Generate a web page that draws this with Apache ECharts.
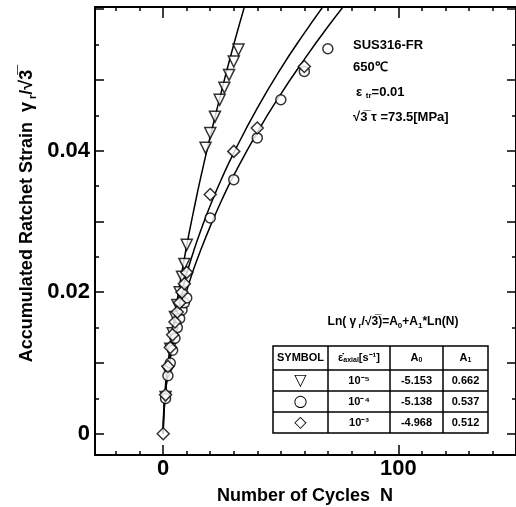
<!DOCTYPE html>
<html>
<head>
<meta charset="utf-8">
<script src="https://cdn.jsdelivr.net/npm/echarts@6/dist/echarts.min.js"></script>
<style>
html, body { margin: 0; padding: 0; background: #fff; }
#main { width: 516px; height: 507px; }
</style>
</head>
<body>
<div id="main"></div>
<script>
var triN = [1, 2, 3, 4, 5, 6, 7, 8, 9, 10, 18, 20, 22, 24, 26, 28, 30, 32];
var triY = [0.0052, 0.0088, 0.0120, 0.0142, 0.0165, 0.0182, 0.0200, 0.0222, 0.0240, 0.0267, 0.0404, 0.0425, 0.0448, 0.0472, 0.0489, 0.0507, 0.0526, 0.0543];
var cirN = [1, 2, 3, 4, 5, 6, 7, 8, 9, 10, 20, 30, 40, 50, 60, 70];
var cirY = [0.0050, 0.0082, 0.0100, 0.0118, 0.0135, 0.0150, 0.0163, 0.0175, 0.0185, 0.0192, 0.0305, 0.0359, 0.0418, 0.0472, 0.0512, 0.0544];
var diaN = [0, 1, 2, 3, 4, 5, 6, 7, 8, 9, 10, 20, 30, 40, 60];
var diaY = [0, 0.0055, 0.0095, 0.0122, 0.0140, 0.0158, 0.0172, 0.0185, 0.0200, 0.0212, 0.0228, 0.0338, 0.0399, 0.0432, 0.0519];

// fitted curves
var fitTriN = [0, 0.1, 0.3, 0.6, 1, 1.5, 2, 3, 4, 5, 7, 10, 13, 16, 20, 25, 30, 36];
var fitTriY = [0, 0.00126, 0.00261, 0.00413, 0.00579, 0.00757, 0.00916, 0.01197, 0.01448, 0.0168, 0.0210, 0.0266, 0.0316, 0.0363, 0.0420, 0.0487, 0.0550, 0.0620];
var fitCirN = [0, 0.1, 0.3, 0.6, 1, 1.5, 2, 3, 4, 5, 7, 10, 13, 16, 20, 25, 30, 40, 50, 60, 70, 80];
var fitCirY = [0, 0.00171, 0.00308, 0.00446, 0.00587, 0.0073, 0.00852, 0.01059, 0.01237, 0.01394, 0.01669, 0.0202, 0.0233, 0.0260, 0.0293, 0.0331, 0.0365, 0.0426, 0.0480, 0.0529, 0.0575, 0.0618];
var fitDiaN = [0, 0.1, 0.3, 0.6, 1, 1.5, 2, 3, 4, 5, 7, 10, 13, 16, 20, 25, 30, 40, 50, 60, 70];
var fitDiaY = [0, 0.00214, 0.00376, 0.00536, 0.00696, 0.00856, 0.00992, 0.01221, 0.01415, 0.01587, 0.01884, 0.02262, 0.02587, 0.02877, 0.03226, 0.03616, 0.0397, 0.0460, 0.0516, 0.0566, 0.0613];

// axes
var xLabels = [0, 100];
var xMajorTicks = [0, 100];
var xMinorTicks = [-20, -10, 0, 10, 20, 30, 40, 50, 60, 70, 80, 90, 100, 110, 120, 130, 140, 150];
var yLabels = [0, 0.02, 0.04];
var yMajorTicks = [0, 0.01, 0.02, 0.03, 0.04, 0.05, 0.06];
var yMinorTicks = [0.005, 0.015, 0.025, 0.035, 0.045, 0.055];

// table
var tableSymbols = ['▽', '○', '◇'];
var tableRates = ['10⁻⁵', '10⁻⁴', '10⁻³'];
var tableA0 = ['-5.153', '-5.138', '-4.968'];
var tableA1 = ['0.662', '0.537', '0.512'];

var FONT = '"Liberation Sans", Arial, sans-serif';

function pairs(xs, ys) {
    var out = [];
    for (var i = 0; i < xs.length; i++) out.push([xs[i], ys[i]]);
    return out;
}

function xAx(pos, ticks, len, labels, line) {
    return {
        type: 'value', position: pos, min: -29, max: 150,
        axisLine: { show: line, onZero: false, lineStyle: { color: '#000', width: 2 } },
        axisTick: { inside: true, length: len, customValues: ticks, lineStyle: { color: '#000', width: 1.5 } },
        axisLabel: labels ? { customValues: labels, margin: 3, color: '#000', fontSize: 22, fontWeight: 'bold', fontFamily: FONT } : { show: false },
        splitLine: { show: false }
    };
}
function yAx(pos, ticks, len, labels, line) {
    return {
        type: 'value', position: pos, min: -0.003, max: 0.0603,
        axisLine: { show: line, onZero: false, lineStyle: { color: '#000', width: 2 } },
        axisTick: { inside: true, length: len, customValues: ticks, lineStyle: { color: '#000', width: 1.5 } },
        axisLabel: labels ? { customValues: labels, margin: 5, color: '#000', fontSize: 22, fontWeight: 'bold', fontFamily: FONT } : { show: false },
        splitLine: { show: false }
    };
}

var lineStyle = { color: '#000', width: 1.5 };
var markStyle = { color: '#fff', borderColor: '#000', borderWidth: 1.5 };

var myChart = echarts.init(document.getElementById('main'));

// table drawing
var tX = [273, 328, 390, 443, 488];
var tY = [346, 370, 391, 412, 433];
var table = [];
table.push({ type: 'rect', shape: { x: tX[0], y: tY[0], width: tX[4] - tX[0], height: tY[4] - tY[0] }, style: { fill: '#fff', stroke: '#000', lineWidth: 1.5 }, z: 10 });
for (var i = 1; i < 4; i++) {
    table.push({ type: 'line', shape: { x1: tX[i], y1: tY[0], x2: tX[i], y2: tY[4] }, style: { stroke: '#000', lineWidth: 1.5 }, z: 11 });
    table.push({ type: 'line', shape: { x1: tX[0], y1: tY[i], x2: tX[4], y2: tY[i] }, style: { stroke: '#000', lineWidth: 1.5 }, z: 11 });
}
function cell(col, row, text, rich, font) {
    var st = { text: text, x: (tX[col] + tX[col + 1]) / 2, y: (tY[row] + tY[row + 1]) / 2, align: 'center', verticalAlign: 'middle', fill: '#000', font: font || 'bold 11px ' + FONT };
    if (rich) st.rich = rich;
    return { type: 'text', style: st, z: 12 };
}
var subRich = {
    n: { font: 'bold 11px ' + FONT, fill: '#000' },
    s: { font: 'bold 7px ' + FONT, fill: '#000', verticalAlign: 'bottom', lineHeight: 12 }
};
table.push(cell(0, 0, 'SYMBOL', null, 'bold 11px ' + FONT));
table.push(cell(1, 0, '{n|ε̇}{s|axial}{n|[s⁻¹]}', subRich));
table.push(cell(2, 0, '{n|A}{s|0}', subRich));
table.push(cell(3, 0, '{n|A}{s|1}', subRich));
for (var r = 0; r < 3; r++) {
    table.push(cell(0, r + 1, tableSymbols[r], null, '16px "DejaVu Sans", sans-serif'));
    table.push(cell(1, r + 1, tableRates[r]));
    table.push(cell(2, r + 1, tableA0[r]));
    table.push(cell(3, r + 1, tableA1[r]));
}

var noteRich = {
    n: { font: 'bold 13px ' + FONT, fill: '#000' },
    s: { font: 'bold 8px ' + FONT, fill: '#000', verticalAlign: 'bottom', lineHeight: 15 }
};
var eqRich = {
    n: { font: 'bold 12px ' + FONT, fill: '#000' },
    s: { font: 'bold 8px ' + FONT, fill: '#000', verticalAlign: 'bottom', lineHeight: 15 }
};
var titleRich = {
    n: { font: 'bold 18px ' + FONT, fill: '#000' },
    s: { font: 'bold 11px ' + FONT, fill: '#000', verticalAlign: 'bottom', lineHeight: 22 }
};

var option = {
    backgroundColor: '#fff',
    animation: false,
    grid: { left: 95, top: 7, width: 424, height: 448 },
    xAxis: [
        xAx('bottom', xMinorTicks, 4, xLabels, true),
        xAx('bottom', xMajorTicks, 10, null, false),
        xAx('top', xMinorTicks, 4, null, true),
        xAx('top', xMajorTicks, 11, null, false)
    ],
    yAxis: [
        yAx('left', yMinorTicks, 4, yLabels, true),
        yAx('left', yMajorTicks, 9, null, false),
        yAx('right', yMinorTicks, 4, null, true),
        yAx('right', yMajorTicks, 9, null, false)
    ],
    series: [
        { type: 'line', data: pairs(fitTriN, fitTriY), smooth: true, showSymbol: false, lineStyle: lineStyle, z: 2 },
        { type: 'line', data: pairs(fitCirN, fitCirY), smooth: true, showSymbol: false, lineStyle: lineStyle, z: 2 },
        { type: 'line', data: pairs(fitDiaN, fitDiaY), smooth: true, showSymbol: false, lineStyle: lineStyle, z: 2 },
        { type: 'scatter', data: pairs(triN, triY), symbol: 'triangle', symbolRotate: 180, symbolSize: 11, itemStyle: markStyle, z: 3 },
        { type: 'scatter', data: pairs(cirN, cirY), symbol: 'circle', symbolSize: 10, itemStyle: markStyle, z: 3 },
        { type: 'scatter', data: pairs(diaN, diaY), symbol: 'diamond', symbolSize: 12, itemStyle: markStyle, z: 3 }
    ],
    graphic: [
        { type: 'text', x: 305, y: 496, style: { text: 'Number of Cycles  N', align: 'center', verticalAlign: 'middle', font: 'bold 18px ' + FONT, fill: '#000' } },
        { type: 'text', x: 27, y: 216, rotation: Math.PI / 2, style: { text: '{n|Accumulated Ratchet Strain  γ}{s| r}{n|/√3\u0305}', rich: titleRich, align: 'center', verticalAlign: 'middle' } },
        { type: 'text', x: 353, y: 45, style: { text: 'SUS316-FR', verticalAlign: 'middle', font: 'bold 13px ' + FONT, fill: '#000' } },
        { type: 'text', x: 353, y: 67, style: { text: '650℃', verticalAlign: 'middle', font: 'bold 13px ' + FONT, fill: '#000' } },
        { type: 'text', x: 356, y: 92, style: { text: '{n|ε }{s|tr}{n|=0.01}', rich: noteRich, verticalAlign: 'middle' } },
        { type: 'text', x: 353, y: 117, style: { text: '√3\u0305 τ =73.5[MPa]', verticalAlign: 'middle', font: 'bold 13px ' + FONT, fill: '#000' } },
        { type: 'text', x: 393, y: 322, style: { text: '{n|Ln( γ}{s| r}{n|/√3\u0305)=A}{s|0}{n|+A}{s|1}{n|*Ln(N)}', rich: eqRich, align: 'center', verticalAlign: 'middle' } }
    ].concat(table)
};

myChart.setOption(option);
</script>
</body>
</html>
